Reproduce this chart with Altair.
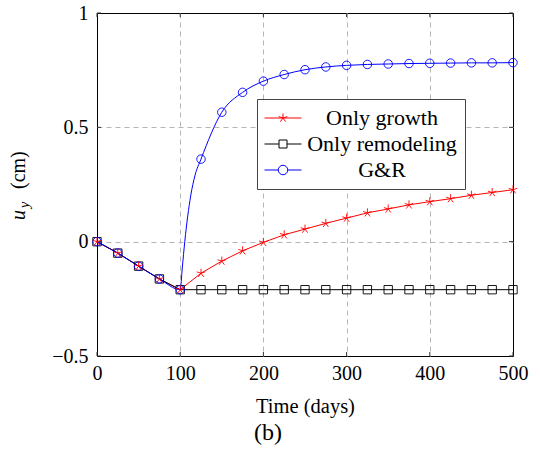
import altair as alt
import pandas as pd

# ---------------- data ----------------
days = [0, 25, 50, 75, 100, 125, 150, 175, 200, 225, 250, 275, 300, 325, 350,
        375, 400, 425, 450, 475, 500]
growth = [0.0, -0.05, -0.107, -0.163, -0.21, -0.138, -0.085, -0.04, -0.003, 0.03,
          0.055, 0.08, 0.103, 0.126, 0.143, 0.161, 0.175, 0.188, 0.203, 0.215, 0.227]
remodeling = [0.0, -0.05, -0.107, -0.163, -0.21, -0.21, -0.21, -0.21, -0.21, -0.21,
              -0.21, -0.21, -0.21, -0.21, -0.21, -0.21, -0.21, -0.21, -0.21, -0.21, -0.21]
gr = [0.0, -0.05, -0.107, -0.163, -0.21, 0.361, 0.566, 0.653, 0.702, 0.731,
      0.752, 0.764, 0.771, 0.775, 0.777, 0.779, 0.780, 0.781, 0.782, 0.782, 0.783]
# extra points on the G&R curve between the markers
gr_curve_days = [102.5, 105.5, 112.6, 117.8]
gr_curve_vals = [-0.115, 0.0, 0.2, 0.29]

series_names = ["Only growth", "Only remodeling", "G&R"]
series_colors = ["#ff0000", "#000000", "#0000ff"]
x_ticks = [0, 100, 200, 300, 400, 500]
y_ticks = [-0.5, 0, 0.5, 1]

FONT = "Liberation Serif"

# marker shapes (unit box -1..1)
ASTERISK = ("M0,0L0,-1M0,0L0.951,-0.309M0,0L0.588,0.809M0,0L-0.588,0.809"
            "M0,0L-0.951,-0.309")
SQUARE = "M-1,-1H1V1H-1Z"
# legend symbols: short line with the marker in the middle (1 unit = 5 px)
LEG_GROWTH = ("M-2.3,0H5.1M1.4,0L1.4,-0.9M1.4,0L2.256,-0.278M1.4,0L1.929,0.728"
              "M1.4,0L0.871,0.728M1.4,0L0.544,-0.278")
LEG_REMODEL = "M-2.3,0H0.6M2.2,0H5.1M0.6,-0.8H2.2V0.8H0.6Z"
LEG_GR = ("M-2.3,0H0.45M2.35,0H5.1M0.45,0A0.95,0.95,0,1,0,2.35,0"
          "A0.95,0.95,0,1,0,0.45,0")

df_growth = pd.DataFrame({"day": days, "value": growth})
df_remodel = pd.DataFrame({"day": days, "value": remodeling})
df_gr = pd.DataFrame({"day": days, "value": gr})
df_gr_line = pd.concat(
    [df_gr, pd.DataFrame({"day": gr_curve_days, "value": gr_curve_vals})]
).sort_values("day")
df_xt = pd.DataFrame({"day": x_ticks})
df_yt = pd.DataFrame({"value": y_ticks})

X = alt.X("day:Q",
          scale=alt.Scale(domain=[0, 500], nice=False, zero=False),
          axis=alt.Axis(values=x_ticks, title="Time (days)", labelFlush=False,
                        labelPadding=7, titlePadding=13, format="d",
                        gridOpacity={"condition": {"test": "datum.value == 0 || datum.value == 500",
                                                   "value": 0}, "value": 1}))
Y = alt.Y("value:Q",
          scale=alt.Scale(domain=[-0.5, 1], nice=False, zero=False),
          axis=alt.Axis(values=y_ticks, title=None, labelFlush=False,
                        labelPadding=9, format=".1~f",
                        gridOpacity={"condition": {"test": "datum.value == -0.5 || datum.value == 1",
                                                   "value": 0}, "value": 1}))

def line(df, color, interp="linear"):
    return alt.Chart(df).mark_line(color=color, strokeWidth=1, interpolate=interp,
                                   opacity=1).encode(x=X, y=Y)

def pts(df, color, shape, size):
    return alt.Chart(df).mark_point(shape=shape, color=color, filled=False,
                                    strokeWidth=0.9, size=size, opacity=1
                                    ).encode(x=X, y=Y)

# inward tick marks on all four sides
tick_color = "#333333"
ticks_bottom = alt.Chart(df_xt).mark_rule(color=tick_color, strokeWidth=1).encode(
    x=X, y=alt.value(343), y2=alt.value(339))
ticks_top = alt.Chart(df_xt).mark_rule(color=tick_color, strokeWidth=1).encode(
    x=X, y=alt.value(0), y2=alt.value(4))
ticks_left = alt.Chart(df_yt).mark_rule(color=tick_color, strokeWidth=1).encode(
    y=Y, x=alt.value(0), x2=alt.value(4))
ticks_right = alt.Chart(df_yt).mark_rule(color=tick_color, strokeWidth=1).encode(
    y=Y, x=alt.value(416), x2=alt.value(412))

legend_df = pd.DataFrame({"series": series_names, "day": [0, 0, 0], "value": [0, 0, 0]})
legend_layer = alt.Chart(legend_df).transform_filter("datum.value > 5").mark_point(
    filled=False, opacity=1, strokeWidth=1
).encode(
    x=X, y=Y,
    color=alt.Color("series:N",
                    scale=alt.Scale(domain=series_names, range=series_colors),
                    legend=alt.Legend(title=None)),
    shape=alt.Shape("series:N",
                    scale=alt.Scale(domain=series_names,
                                    range=[LEG_GROWTH, LEG_REMODEL, LEG_GR]),
                    legend=alt.Legend(title=None)),
)

def txt(s, x, y, size, italic=False):
    return alt.Chart(pd.DataFrame({"t": [s]})).mark_text(
        angle=270, align="left", baseline="alphabetic", font=FONT,
        fontSize=size, fontStyle="italic" if italic else "normal", color="black"
    ).encode(text="t:N", x=alt.value(x), y=alt.value(y))

chart = alt.layer(
    ticks_bottom, ticks_top, ticks_left, ticks_right,
    line(df_growth, "#ff0000"),
    line(df_remodel, "#000000"),
    line(df_gr_line, "#0000ff", "monotone"),
    pts(df_remodel, "#000000", SQUARE, 70),
    pts(df_gr, "#0000ff", "circle", 72),
    pts(df_growth, "#ff0000", ASTERISK, 81),
    legend_layer,
    txt("u", -72, 207, 20, True),
    txt("y", -68, 195, 14, True),
    txt("(cm)", -72, 176, 20),
).properties(
    width=416, height=343,
    background="white",
    autosize=alt.AutoSizeParams(type="none"),
    padding={"left": 97, "top": 13, "right": 27, "bottom": 106},
    title=alt.TitleParams("(b)", orient="bottom", anchor="middle", font=FONT,
                          fontSize=24, fontWeight="normal", color="black", dx=-37),
).configure_view(
    stroke="black", strokeWidth=1
).configure_axis(
    labelFont=FONT, labelFontSize=20, labelColor="black",
    titleFont=FONT, titleFontSize=20.5, titleFontWeight="normal", titleColor="black",
    ticks=False, domain=False, grid=True, gridDash=[5, 4], gridColor="#b5b5b5",
    gridWidth=1,
).configure_legend(
    orient="none", legendX=160, legendY=86, labelFont=FONT, labelFontSize=22,
    labelColor="black", labelAlign="center", labelOffset=95, symbolSize=100,
    symbolStrokeWidth=1, rowPadding=4, padding=8, fillColor="white",
    strokeColor="#444444", labelLimit=300,
)

chart.save("out.html", embed_options={"renderer": "svg", "actions": False})
